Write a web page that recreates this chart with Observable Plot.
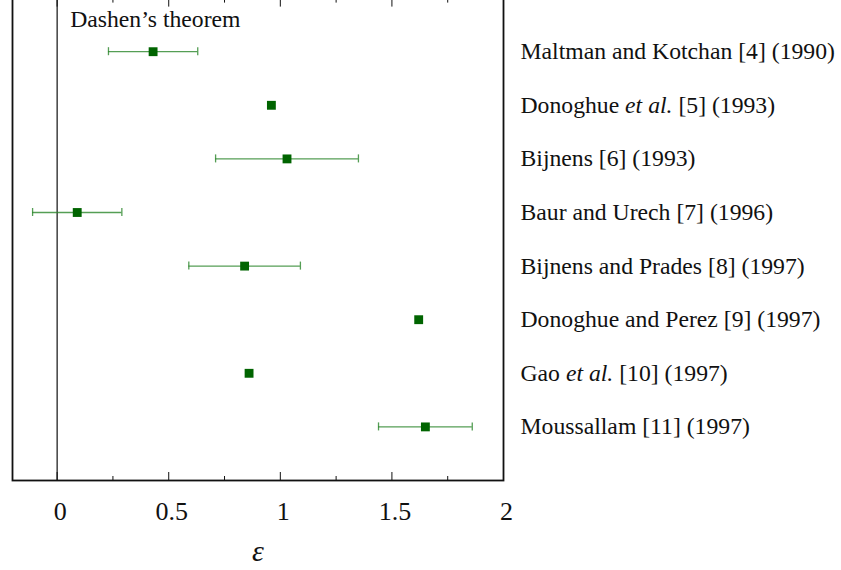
<!DOCTYPE html>
<html>
<head>
<meta charset="utf-8">
<script src="https://cdn.jsdelivr.net/npm/d3@7"></script>
<script src="https://cdn.jsdelivr.net/npm/@observablehq/plot@0.6"></script>
<style>
  html, body { margin: 0; padding: 0; background: #fff; overflow: hidden; }
  #chart { position: relative; width: 841px; height: 570px; }
</style>
</head>
<body>
<div id="chart"></div>
<script>
const studies = [
  "Maltman and Kotchan [4] (1990)",
  "Donoghue et al. [5] (1993)",
  "Bijnens [6] (1993)",
  "Baur and Urech [7] (1996)",
  "Bijnens and Prades [8] (1997)",
  "Donoghue and Perez [9] (1997)",
  "Gao et al. [10] (1997)",
  "Moussallam [11] (1997)"
];
const epsilon = [0.43, 0.96, 1.03, 0.09, 0.84, 1.62, 0.86, 1.65];
const errorLow = [0.23, null, 0.71, -0.11, 0.59, null, null, 1.44];
const errorHigh = [0.63, null, 1.35, 0.29, 1.09, null, null, 1.86];
const majorTicks = [0, 0.5, 1, 1.5, 2];
const minorTicks = [0.25, 0.75, 1.25, 1.75];
const dashenValue = [0];
const dashenLabel = "Dashen\u2019s theorem";
const xLabel = "\u03B5";

const data = studies.map((s, i) => ({study: s, eps: epsilon[i], lo: errorLow[i], hi: errorHigh[i]}));
const bars = data.filter(d => d.lo != null);

const green = "#006400";
const barGreen = "#2a862a";

const plot = Plot.plot({
  width: 841,
  height: 570,
  marginLeft: 12,
  marginRight: 338,
  marginTop: -2.4,
  marginBottom: 90,
  style: {fontFamily: "'Liberation Serif', 'Times New Roman', serif", fontSize: "23.7px", color: "#111", background: "#fff"},
  x: {domain: [-0.2, 2]},
  y: {type: "band", domain: studies, paddingInner: 0.85, paddingOuter: 0.925, round: false},
  marks: [
    Plot.ruleX(dashenValue, {x: d => d, stroke: "#111", strokeWidth: 1.2}),
    Plot.text([dashenLabel], {x: () => dashenValue[0], frameAnchor: "top", textAnchor: "start", lineAnchor: "top", dx: 13, dy: 12, fill: "#111"}),
    Plot.ruleY(bars, {y: "study", x1: "lo", x2: "hi", stroke: barGreen, strokeWidth: 1.3, strokeOpacity: 0.8}),
    Plot.tickX(bars, {y: "study", x: "lo", stroke: barGreen, strokeWidth: 1.3, strokeOpacity: 0.8}),
    Plot.tickX(bars, {y: "study", x: "hi", stroke: barGreen, strokeWidth: 1.3, strokeOpacity: 0.8}),
    Plot.dot(data, {y: "study", x: "eps", symbol: "square", r: 5, fill: green, stroke: "none"}),
    Plot.frame({stroke: "#111", strokeWidth: 1.8}),
    Plot.axisX({anchor: "bottom", ticks: majorTicks, tickSize: -8, text: null, label: null, stroke: "#111"}),
    Plot.axisX({anchor: "bottom", ticks: minorTicks, tickSize: -4, text: null, label: null, stroke: "#111"}),
    Plot.axisX({anchor: "top", ticks: majorTicks, tickSize: -8, text: null, label: null, stroke: "#111"}),
    Plot.axisX({anchor: "top", ticks: minorTicks, tickSize: -4, text: null, label: null, stroke: "#111"}),
    Plot.axisX({anchor: "bottom", ticks: majorTicks, tickSize: 0, tickPadding: 21, tickFormat: d => String(d), label: null, fontSize: 26, dx: 3, fill: "#111"}),
    Plot.text([xLabel], {frameAnchor: "bottom", dy: 80, lineAnchor: "bottom", fontSize: 30, fontStyle: "italic", fill: "#111"}),
    Plot.axisY({anchor: "right", tickSize: 0, tickPadding: 17, label: null, fill: "#111"})
  ]
});

plot.querySelectorAll("text").forEach(t => {
  const s = t.textContent;
  const i = s.indexOf("et al.");
  if (i >= 0 && t.children.length === 0) {
    t.textContent = "";
    const parts = [[s.slice(0, i), null], ["et al.", "italic"], [s.slice(i + 6), null]];
    for (const [txt, st] of parts) {
      const ts = document.createElementNS("http://www.w3.org/2000/svg", "tspan");
      ts.textContent = txt;
      if (st) ts.setAttribute("font-style", st);
      t.appendChild(ts);
    }
  }
});

document.getElementById("chart").appendChild(plot);
</script>
</body>
</html>
